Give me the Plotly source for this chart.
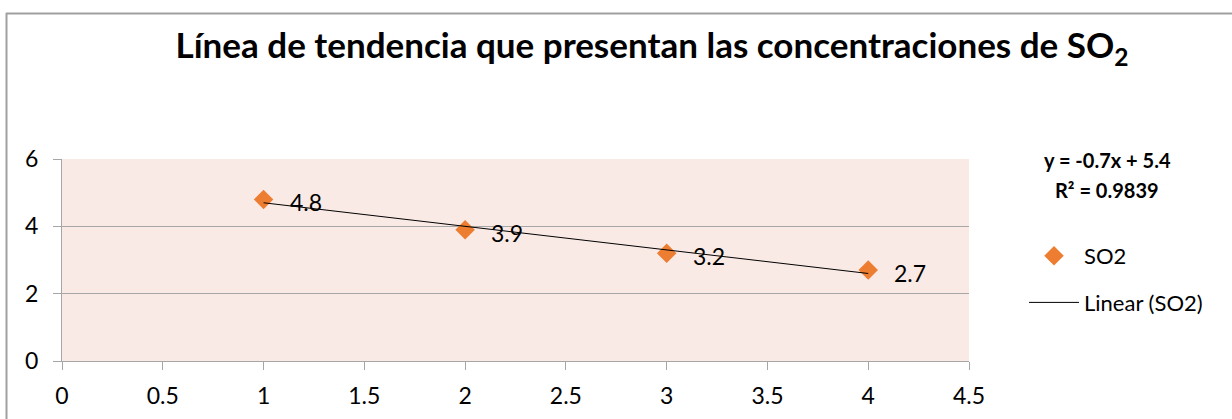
import numpy as np
import plotly.graph_objects as go

x_vals = [1, 2, 3, 4]
so2_vals = [4.8, 3.9, 3.2, 2.7]
x_ticks = [0, 0.5, 1, 1.5, 2, 2.5, 3, 3.5, 4, 4.5]
y_ticks = [0, 2, 4, 6]
title_text = "Línea de tendencia que presentan las concentraciones de SO<sub>2</sub>"

slope, intercept = np.polyfit(x_vals, so2_vals, 1)
pred = [slope * v + intercept for v in x_vals]
mean_y = np.mean(so2_vals)
ss_res = sum((a - b) ** 2 for a, b in zip(so2_vals, pred))
ss_tot = sum((a - mean_y) ** 2 for a in so2_vals)
r2 = 1 - ss_res / ss_tot

FONT = "Lato"
W, H = 1232, 419
L, R, T, B = 62, 263, 159, 58
PW, PH = W - L - R, H - T - B

def px_to_paper_x(px):
    return (px - L) / PW

def px_to_paper_y(py):
    return (H - B - py) / PH

fig = go.Figure()
fig.add_trace(go.Scatter(
    x=x_vals, y=so2_vals, mode="markers", name="SO2", legendgroup="a",
    marker=dict(symbol="diamond", size=15, color="#ED7D31"),
    cliponaxis=False,
))
fig.add_trace(go.Scatter(
    x=x_vals, y=pred, mode="lines", name="Linear (SO2)", legendgroup="b",
    line=dict(color="black", width=1),
))

annotations = []
for xv, yv in zip(x_vals, so2_vals):
    annotations.append(dict(
        x=xv, y=yv, xref="x", yref="y", text=str(yv), showarrow=False,
        xanchor="left", yanchor="middle", xshift=24, yshift=-3,
        font=dict(family=FONT, size=23, color="black"),
    ))

eq_lines = [f"y = {slope:.1f}x + {intercept:.1f}", f"R² = {r2:.4f}"]
for line_text, ypx in zip(eq_lines, [160, 190]):
    annotations.append(dict(
        x=px_to_paper_x(1107), y=px_to_paper_y(ypx), xref="paper", yref="paper",
        text=line_text, showarrow=False, xanchor="center", yanchor="middle",
        font=dict(family=FONT, size=20, color="black", weight="bold"),
    ))

shapes = [
    dict(type="line", xref="paper", yref="paper",
         x0=px_to_paper_x(6), x1=px_to_paper_x(W + 5), y0=px_to_paper_y(13.5), y1=px_to_paper_y(13.5),
         line=dict(color="#A0A0A0", width=2)),
    dict(type="line", xref="paper", yref="paper",
         x0=px_to_paper_x(6.5), x1=px_to_paper_x(6.5), y0=px_to_paper_y(13), y1=px_to_paper_y(H + 5),
         line=dict(color="#A0A0A0", width=2)),
]

fig.update_layout(
    width=W, height=H,
    margin=dict(l=L, r=R, t=T, b=B, autoexpand=False),
    paper_bgcolor="white",
    plot_bgcolor="#FAEAE6",
    title=dict(text=title_text, x=652 / W, xanchor="center",
               y=1 - 46 / H, yanchor="middle",
               font=dict(family=FONT, size=35, color="black", weight="bold")),
    xaxis=dict(range=[0, 4.5], tickvals=x_ticks, ticktext=[f"{v:g}" for v in x_ticks],
               showgrid=False, zeroline=False, showline=True, linecolor="#A6A6A6", linewidth=1,
               ticks="outside", ticklen=8, tickcolor="#A6A6A6", ticklabelstandoff=6,
               automargin=False,
               tickfont=dict(family=FONT, size=23, color="black")),
    yaxis=dict(range=[0, 6], tickvals=y_ticks, showgrid=True, gridcolor="#A6A6A6", gridwidth=1,
               zeroline=False, showline=True, linecolor="#A6A6A6", linewidth=1,
               ticks="outside", ticklen=8, tickcolor="#A6A6A6", ticklabelstandoff=10,
               automargin=False,
               tickfont=dict(family=FONT, size=23, color="black")),
    legend=dict(x=px_to_paper_x(1024), y=px_to_paper_y(235), xanchor="left", yanchor="top",
                font=dict(family=FONT, size=22, color="black"),
                bgcolor="rgba(0,0,0,0)", itemwidth=50, tracegroupgap=15),
    showlegend=True,
    annotations=annotations,
    shapes=shapes,
)

fig.write_html("out.html")
